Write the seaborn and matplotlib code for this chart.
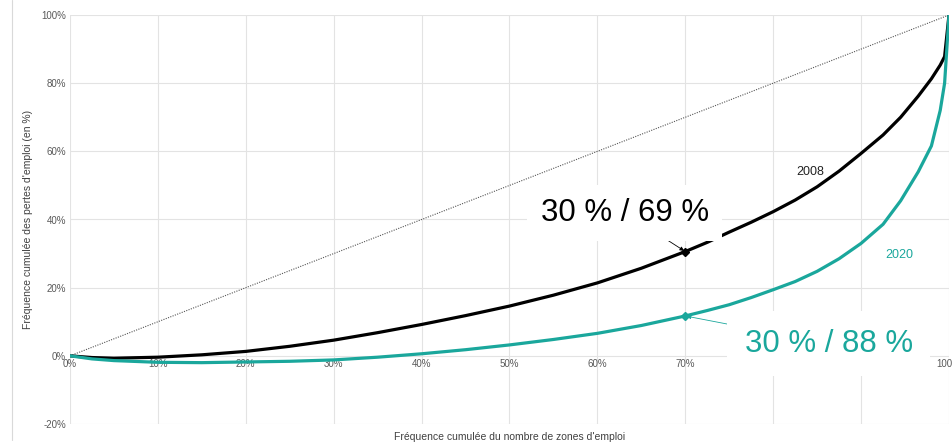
import matplotlib
matplotlib.use("Agg")
import matplotlib.pyplot as plt
import matplotlib.ticker as mticker
import seaborn as sns
import pandas as pd

sns.set_theme(style="whitegrid")
plt.rcParams['font.family'] = ['Liberation Sans', 'DejaVu Sans']

""" Data (read off the reference) """
x_pct = [0, 2.5, 5, 10, 15, 20, 25, 30, 35, 40, 45, 50, 55, 60, 65, 70, 72.5, 75,
         77.5, 80, 82.5, 85, 87.5, 90, 92.5, 94.5, 96.5, 98, 99, 99.5, 100]
y_2008 = [0, -0.5, -0.7, -0.4, 0.3, 1.3, 2.8, 4.6, 6.8, 9.2, 11.8, 14.6, 17.8, 21.4,
          25.7, 30.6, 33.3, 36.3, 39.2, 42.3, 45.7, 49.6, 54.2, 59.4, 64.8, 70.0,
          76.2, 81.3, 85.3, 87.8, 100]
y_2020 = [0, -0.9, -1.4, -1.9, -2.0, -1.8, -1.6, -1.2, -0.4, 0.6, 1.8, 3.2, 4.8, 6.6,
          8.9, 11.7, 13.3, 15.0, 17.1, 19.4, 21.8, 24.8, 28.5, 33.0, 38.6, 45.5,
          54.0, 61.6, 72.0, 80.0, 100]
point_x = 70
point_2008 = 30.6
point_2020 = 11.7
label_2008 = "30 % / 69 %"
label_2020 = "30 % / 88 %"

BLACK = "#000000"
TEAL = "#1aa79c"
GREY_TXT = "#595959"

df = pd.DataFrame({
    "x": x_pct * 2,
    "y": y_2008 + y_2020,
    "annee": ["2008"] * len(x_pct) + ["2020"] * len(x_pct),
})

fig = plt.figure(figsize=(9.53, 4.44), dpi=100)
ax = fig.add_axes([70 / 953, 20 / 444, 879 / 953, 409 / 444])

# diagonale d'egalite
ax.plot([0, 100], [0, 100], linestyle=(0, (1, 1.2)), color="#555555", linewidth=0.8, zorder=2)

sns.lineplot(data=df, x="x", y="y", hue="annee", palette={"2008": BLACK, "2020": TEAL},
             linewidth=2.3, legend=False, ax=ax, zorder=3,
             solid_joinstyle="round", solid_capstyle="round")

ax.plot([point_x], [point_2008], marker="D", color=BLACK, markersize=4, zorder=4)
ax.plot([point_x], [point_2020], marker="D", color=TEAL, markersize=4, zorder=4)

ax.set_xlim(0, 100)
ax.set_ylim(-20, 100)
ax.xaxis.set_major_locator(mticker.MultipleLocator(10))
ax.yaxis.set_major_locator(mticker.MultipleLocator(20))
ax.xaxis.set_major_formatter(mticker.FuncFormatter(lambda v, p: "%d%%" % v))
ax.yaxis.set_major_formatter(mticker.FuncFormatter(lambda v, p: "%d%%" % v))
ax.grid(True, color="#e3e3e3", linewidth=0.8)
for s in ["top", "right", "left"]:
    ax.spines[s].set_visible(False)
ax.spines["bottom"].set_position(("data", 0))
ax.spines["bottom"].set_color("none")
ax.tick_params(axis="both", labelsize=7, colors=GREY_TXT, length=0, pad=3)
ax.tick_params(axis="x", pad=2)

ax.set_xlabel("")
ax.set_ylabel("Fréquence cumulée des pertes d'emploi (en %)", fontsize=7.5, color="#404040", labelpad=6)
fig.text(510 / 953, 1 - 437 / 444, "Fréquence cumulée du nombre de zones d'emploi",
         fontsize=7.5, color="#404040", ha="center", va="center")

ax.text(84.2, 53.8, "2008", fontsize=9, color="#222222", ha="center", va="center")
ax.text(94.3, 29.7, "2020", fontsize=9, color=TEAL, ha="center", va="center")

ax.annotate(label_2008, xy=(point_x, point_2008), xytext=(63.1, 42.0),
            fontsize=22.5, color=BLACK, ha="center", va="center",
            bbox=dict(boxstyle="square,pad=0.42", fc="white", ec="none"),
            arrowprops=dict(arrowstyle="-|>", color=BLACK, lw=0.6, mutation_scale=6,
                            shrinkA=0, shrinkB=1, patchA=None),
            zorder=5)
ax.annotate(label_2020, xy=(point_x, point_2020), xytext=(86.3, 3.6),
            fontsize=22.5, color=TEAL, ha="center", va="center",
            bbox=dict(boxstyle="square,pad=0.55", fc="white", ec="none"),
            arrowprops=dict(arrowstyle="-|>", color=TEAL, lw=0.6, mutation_scale=6,
                            shrinkA=0, shrinkB=1, patchA=None),
            zorder=5)

# trait gris a gauche du cadre
fig.add_artist(plt.Line2D([12 / 953, 12 / 953], [0.01, 1.0], color="#d9d9d9", linewidth=0.8))

fig.savefig("out.png", dpi=100)
